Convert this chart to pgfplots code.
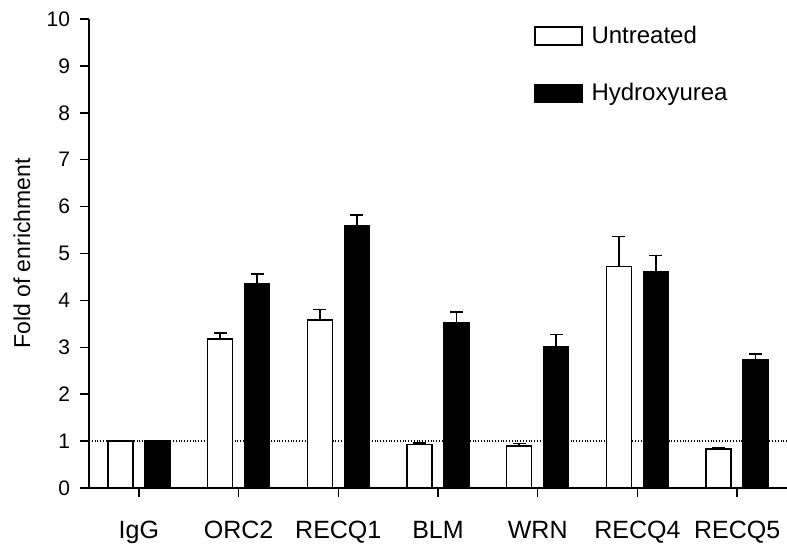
\documentclass[border=0pt]{standalone}
\usepackage{fontspec}
\setmainfont{Liberation Sans}
\usepackage{pgfplots}
\pgfplotsset{compat=1.18}
\usepackage{pgfplotstable}
\pgfplotstableread{
x  u     ue    h     he
0  1.00  0.00  1.00  0.00
1  3.18  0.12  4.35  0.21
2  3.58  0.23  5.59  0.23
3  0.93  0.03  3.52  0.23
4  0.895 0.05  3.01  0.26
5  4.72  0.64  4.61  0.35
6  0.83  0.03  2.73  0.13
}\data
\begin{document}
\begin{tikzpicture}
\begin{axis}[
  name=ax,
  width=349pt, height=234.5pt, scale only axis,
  ybar=6pt, bar width=12.5pt,
  xmin=-0.5, xmax=6.5, ymin=0, ymax=10,
  axis lines=left, axis line style={-, line width=0.75pt},
  every tick/.style={line width=0.75pt, black},
  tick align=outside, major tick length=4.5pt,
  xtick={0,...,6},
  xticklabels={IgG,ORC2,RECQ1,BLM,WRN,RECQ4,RECQ5},
  ytick={0,...,10},
  extra y ticks={1}, extra y tick labels={},
  extra y tick style={grid=major, major grid style={black, densely dotted, line width=0.75pt}},
  font=\fontsize{10.5}{12.6}\selectfont,
  /pgf/number format/assume math mode=true,
  xticklabel style={yshift=-8.5pt, font=\fontsize{12.5}{15}\selectfont},
  yticklabel style={xshift=-1.5pt},
  ylabel={Fold of enrichment},
  every axis y label/.style={at={(axis description cs:-0.096,0.5)}, anchor=center, rotate=90, font=\fontsize{11.5}{13.8}\selectfont},
  legend style={draw=none, fill=none, at={(axis description cs:0.637,0.993)}, anchor=north west,
     row sep=15.5pt, font=\fontsize{12}{14.4}\selectfont, inner sep=0pt,
     nodes={inner sep=1.5pt}},
  legend cell align=left,
  legend image code/.code={\draw[#1, line width=0.75pt] (0pt,-4.5pt) rectangle (23.5pt,4.5pt); \path (26.5pt,0pt);},
]
\addplot[draw=black, fill=white, line width=0.75pt,
  error bars/.cd, y dir=plus, y explicit,
  error bar style={line width=0.75pt, black},
  error mark options={rotate=90, mark size=3.25pt, line width=0.75pt, black}]
  table[x=x, y=u, y error=ue] {\data};
\addlegendentry{Untreated}
\addplot[draw=black, fill=black, line width=0.75pt,
  error bars/.cd, y dir=plus, y explicit,
  error bar style={line width=0.75pt, black},
  error mark options={rotate=90, mark size=3.25pt, line width=0.75pt, black}]
  table[x=x, y=h, y error=he] {\data};
\addlegendentry{Hydroxyurea}
\end{axis}
\pgfresetboundingbox
\path ([xshift=-44.5pt,yshift=-29pt]ax.south west) rectangle ([yshift=9.5pt]ax.north east);
\end{tikzpicture}
\end{document}
